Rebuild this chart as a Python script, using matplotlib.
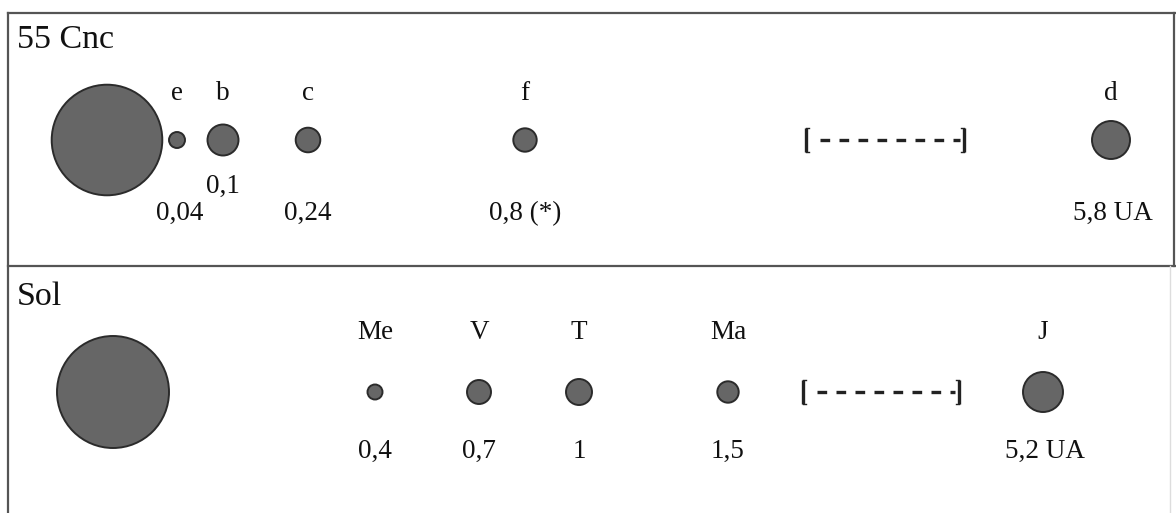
#!/usr/bin/env python
# -*- coding: utf-8 -*-
"""Schematic comparison of the 55 Cnc system with the Solar System."""

import matplotlib
matplotlib.use('Agg')
import matplotlib.pyplot as plt
from matplotlib.patches import Circle


# Data: names and orbital distances (UA), as labelled.
CNC_TITLE = '55 Cnc'
CNC_NAMES = ['e', 'b', 'c', 'f', 'd']
CNC_DIST = ['0,04', '0,1', '0,24', '0,8 (*)', '5,8 UA']

SOL_TITLE = 'Sol'
SOL_NAMES = ['Me', 'V', 'T', 'Ma', 'J']
SOL_DIST = ['0,4', '0,7', '1', '1,5', '5,2 UA']

# Layout (schematic, in pixels): x of each body and its drawn radius.
CNC_X = [177, 223, 308, 525, 1111]
CNC_R = [8, 15.5, 12.3, 11.7, 19]
CNC_DIST_RAISED = [False, True, False, False, False]
SOL_X = [375, 479, 579, 728, 1043]
SOL_R = [7.5, 12, 13, 10.7, 20]

W, H = 1176, 513
FILL = '#666666'
EDGE = '#2b2b2b'
FONT = 'Liberation Serif'
TXT = '#111111'


def draw_gap(ax, x0, x1, y):
  """Draws the '[--------]' marker meaning skipped distance."""
  for x, sign in ((x0, 1), (x1, -1)):
    ax.plot([x, x], [y - 12, y + 12], color='#222222', lw=2.4,
            solid_capstyle='butt')
    ax.plot([x, x + 3 * sign], [y - 12, y - 12], color='#222222', lw=1)
    ax.plot([x, x + 3 * sign], [y + 12, y + 12], color='#222222', lw=1)
  ax.plot([x0 + 14, x1 - 4], [y, y], color='#222222', lw=2.4,
          linestyle=(0, (2.9, 2.8)), dash_capstyle='butt')


def draw_system(ax, title, title_base, star_x, star_r, y, names, dists, xs,
                radii, name_base, dist_base, raised=None):
  """Draws one panel: star, planets, names and distances."""
  ax.text(17, title_base, title, fontsize=24.5, family=FONT,
          ha='left', va='baseline', color=TXT)
  ax.add_patch(Circle((star_x, y), star_r, facecolor=FILL, edgecolor=EDGE,
                      lw=1.4))
  for i, (name, dist, x, r) in enumerate(zip(names, dists, xs, radii)):
    ax.add_patch(Circle((x, y), r, facecolor=FILL, edgecolor=EDGE, lw=1.4))
    ax.text(x, name_base, name, fontsize=19.5, family=FONT, ha='center',
            va='baseline', color=TXT)
    base = dist_base
    dx = 0
    if raised is not None:
      if raised[i]:
        base = dist_base - 27
      elif i == 0:
        dx = 3
    if dist.endswith('UA'):
      dx = 2
    ax.text(x + dx, base, dist, fontsize=19.5, family=FONT, ha='center',
            va='baseline', color=TXT)


def main():
  fig = plt.figure(figsize=(W / 100., H / 100.), dpi=100)
  ax = fig.add_axes([0, 0, 1, 1])
  ax.set_xlim(0, W)
  ax.set_ylim(H, 0)
  ax.axis('off')

  # Frame of the two panels.
  frame = dict(color='#555555', lw=1.6)
  ax.plot([8, W], [13, 13], **frame)
  ax.plot([8, 8], [13, H], **frame)
  ax.plot([8, W], [266, 266], **frame)
  ax.plot([1174, 1174], [13, 266], **frame)
  ax.plot([1170, 1170], [266, H], color='#dddddd', lw=1)

  draw_system(ax, CNC_TITLE, 48, 107, 55.3, 140, CNC_NAMES, CNC_DIST,
              CNC_X, CNC_R, 100, 220, CNC_DIST_RAISED)
  draw_gap(ax, 806, 964, 140)

  draw_system(ax, SOL_TITLE, 305, 113, 56, 392, SOL_NAMES, SOL_DIST,
              SOL_X, SOL_R, 339, 458)
  draw_gap(ax, 803, 959, 392)

  fig.savefig('out.png', dpi=100)
  plt.close(fig)


if __name__ == '__main__':
  main()
